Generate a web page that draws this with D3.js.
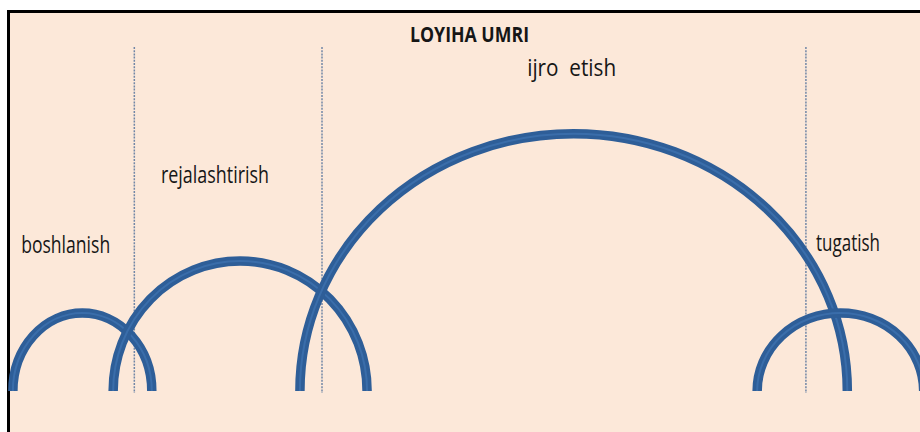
<!DOCTYPE html>
<html>
<head>
<meta charset="utf-8">
<script src="https://cdn.jsdelivr.net/npm/d3@7"></script>
<style>
  body { margin: 0; background: #fff; }
  svg { display: block; }
</style>
</head>
<body>
<div id="chart"></div>
<script>
const width = 920, height = 432;

// project phases (time units 0..100 along the life of the project)
var phaseNames  = ['boshlanish', 'rejalashtirish', 'ijro  etish', 'tugatish'];
var arcStart    = [1.4, 12.3, 32.6, 82.3];
var arcEnd      = [16.5, 39.9, 92.1, 100.4];
var arcLevel    = [30, 50, 99, 30];          // effort level at the peak of each phase
var dividers    = [14.6, 35.0, 87.6];        // phase boundaries
var title       = 'LOYIHA UMRI';

// label placement (x in time units, y in level units)
var labelX      = [2.3, 17.5, 57.3, 88.7];
var labelY      = [53, 80, 121, 54];
var labelW      = [89, 108, 89, 64];

let x = d3.scaleLinear().domain([0, 100]).range([0, width]);
let y = d3.scaleLinear().domain([0, 100]).range([391, 131]);

let svg = d3.select("#chart")
    .append("svg")
    .attr("width", width)
    .attr("height", height);

// frame
svg.append("rect")
    .attr("x", 8.5)
    .attr("y", 11.5)
    .attr("width", width + 20)
    .attr("height", height + 20)
    .style("fill", "#fce8d9")
    .style("stroke", "#000")
    .style("stroke-width", 3);

// dotted phase boundaries
svg.append("g")
    .selectAll("line")
    .data(dividers)
    .enter()
    .append("line")
    .attr("x1", function(d) { return x(d); })
    .attr("x2", function(d) { return x(d); })
    .attr("y1", 47)
    .attr("y2", 393)
    .style("stroke", "#7186a6")
    .style("stroke-width", 1.5)
    .style("stroke-dasharray", "2,1.2");

// half-ellipse for a phase
function arcPath(i) {
    let x0 = x(arcStart[i]), x1 = x(arcEnd[i]);
    let rx = (x1 - x0) / 2;
    let ry = y(0) - y(arcLevel[i]);
    return `M${x0},${y(0)} A${rx},${ry} 0 0 1 ${x1},${y(0)}`;
}

let arcs = svg.append("g");
d3.range(arcStart.length).forEach(function(i) {
    arcs.append("path")
        .attr("d", arcPath(i))
        .style("fill", "none")
        .style("stroke", "#2e5e98")
        .style("stroke-width", 9.5);
    arcs.append("path")
        .attr("d", arcPath(i))
        .style("fill", "none")
        .style("stroke", "#4a80c2")
        .style("stroke-width", 2)
        .style("opacity", 0.45);
});

// phase labels
svg.append("g")
    .selectAll("text")
    .data(phaseNames)
    .enter()
    .append("text")
    .attr("x", function(d, i) { return x(labelX[i]); })
    .attr("y", function(d, i) { return y(labelY[i]); })
    .attr("textLength", function(d, i) { return labelW[i]; })
    .attr("lengthAdjust", "spacingAndGlyphs")
    .style("font-family", "'Open Sans', sans-serif")
    .style("font-size", "24px")
    .style("fill", "#161616")
    .style("white-space", "pre")
    .text(function(d) { return d; });

// title
svg.append("text")
    .attr("x", 410)
    .attr("y", 42)
    .attr("textLength", 119)
    .attr("lengthAdjust", "spacingAndGlyphs")
    .style("font-family", "'Open Sans', sans-serif")
    .style("font-size", "22px")
    .style("font-weight", "bold")
    .style("fill", "#161616")
    .text(title);
</script>
</body>
</html>
